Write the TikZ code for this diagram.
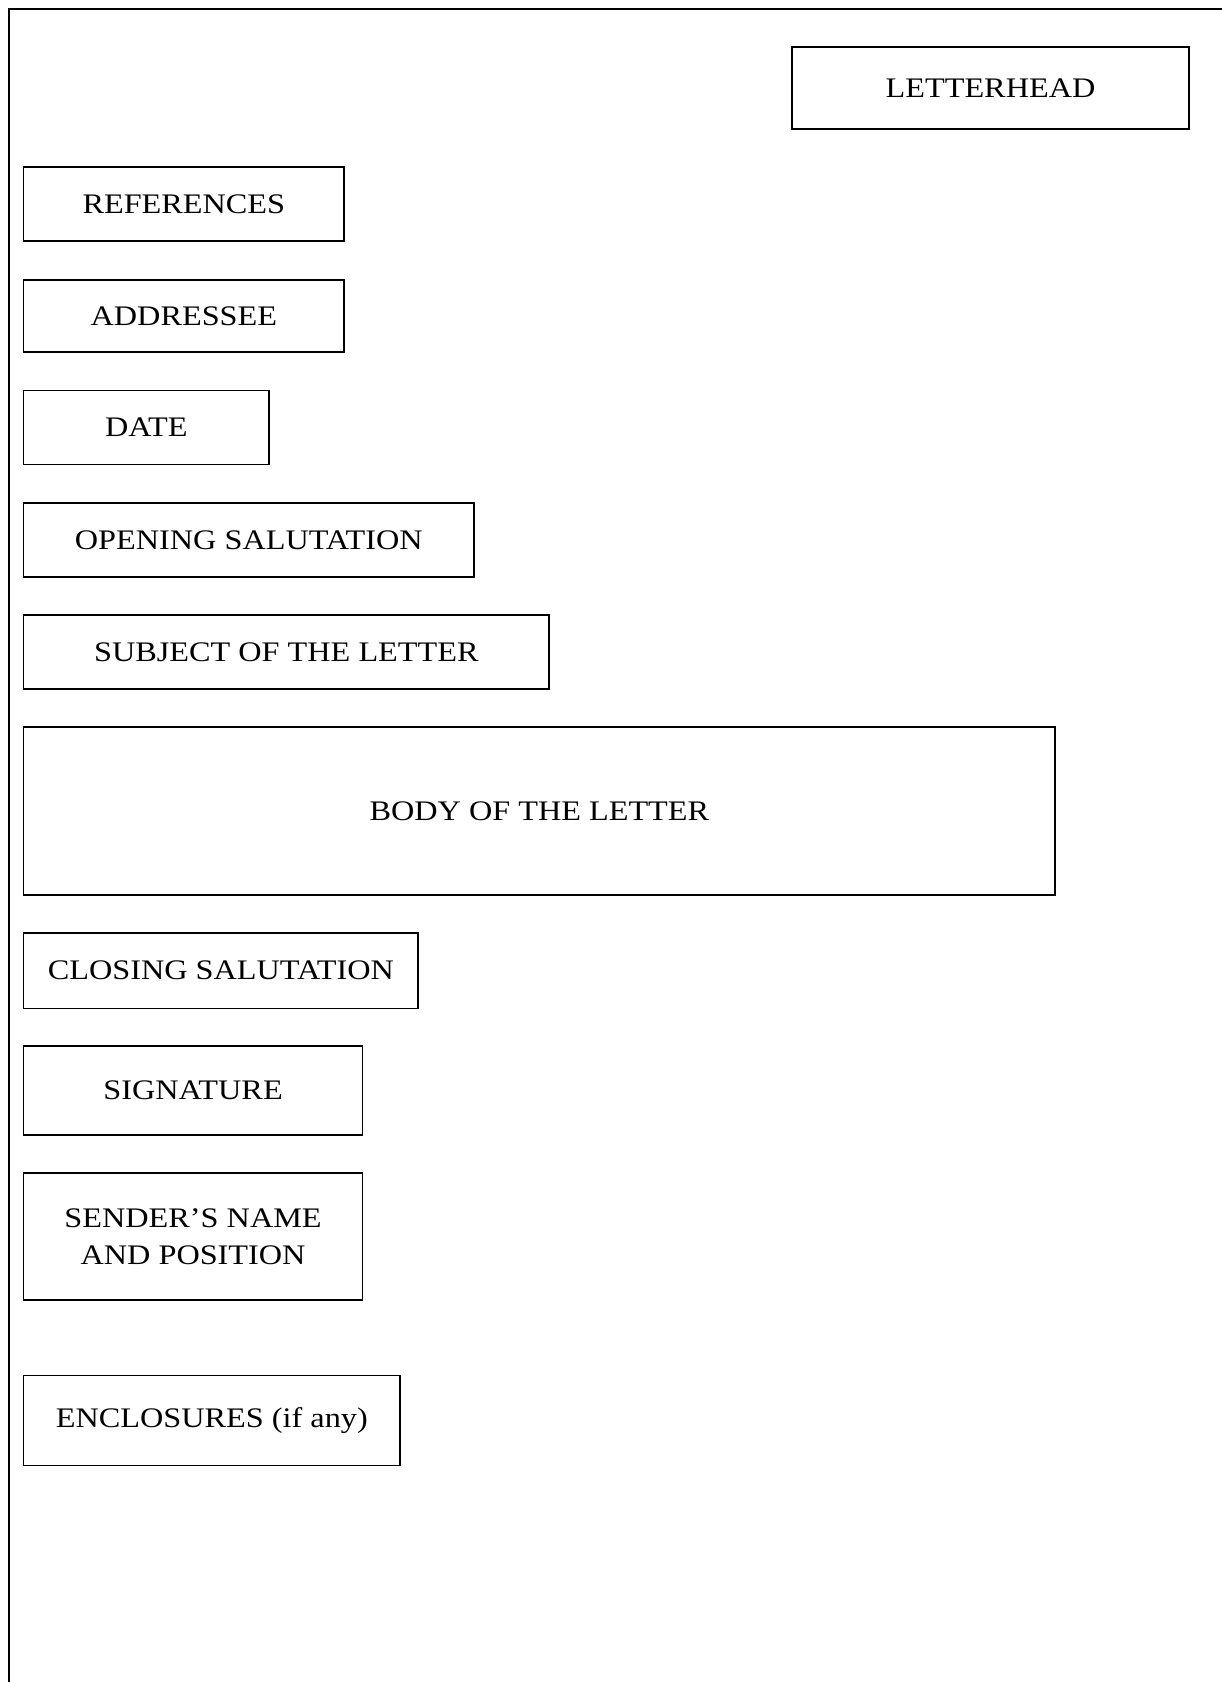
\documentclass[tikz,border=0pt]{standalone}
\usepackage{fontspec}
\setmainfont{Liberation Serif}[FakeStretch=1.14]
\begin{document}
\begin{tikzpicture}[x=1pt,y=-1pt,
  part/.style={draw, line width=1.6pt, inner sep=0pt, outer sep=0pt,
    anchor=north west, align=center,
    font=\fontsize{28.3}{36.5}\selectfont},
  frame/.style={line width=1.6pt},
]
\useasboundingbox (0,0) rectangle (1222,1682);
% page frame (top and left edges)
\coordinate (ftr) at (1223,9);
\coordinate (ftl) at (9,9);
\coordinate (fbl) at (9,1683);
\draw[frame] (ftr) -- (ftl) -- (fbl);
% parts of the letter
\node[part, minimum width=397pt, minimum height=82pt] (letterhead) at (792,47) {LETTERHEAD};
\node[part, minimum width=320.5pt, minimum height=74pt] (references) at (23.6,167) {REFERENCES};
\node[part, minimum width=320.5pt, minimum height=72pt] (addressee) at (23.6,280) {ADDRESSEE};
\node[part, minimum width=245.5pt, minimum height=74pt] (date) at (23.6,390.5) {DATE};
\node[part, minimum width=450.5pt, minimum height=74pt] (opening) at (23.6,503) {OPENING SALUTATION};
\node[part, minimum width=525.5pt, minimum height=74pt] (subject) at (23.6,615) {SUBJECT OF THE LETTER};
\node[part, minimum width=1031.5pt, minimum height=168pt] (body) at (23.6,727) {BODY OF THE LETTER};
\node[part, minimum width=394.5pt, minimum height=75.5pt] (closing) at (23.6,933) {CLOSING SALUTATION};
\node[part, minimum width=339pt, minimum height=89pt] (signature) at (23.6,1046) {SIGNATURE};
\node[part, minimum width=339pt, minimum height=127pt] (sender) at (23.6,1173) {SENDER’S NAME\\AND POSITION};
\node[part, minimum width=376.5pt, minimum height=90pt] (enclosures) at (23.6,1375.5) {ENCLOSURES (if any)};
\end{tikzpicture}
\end{document}
